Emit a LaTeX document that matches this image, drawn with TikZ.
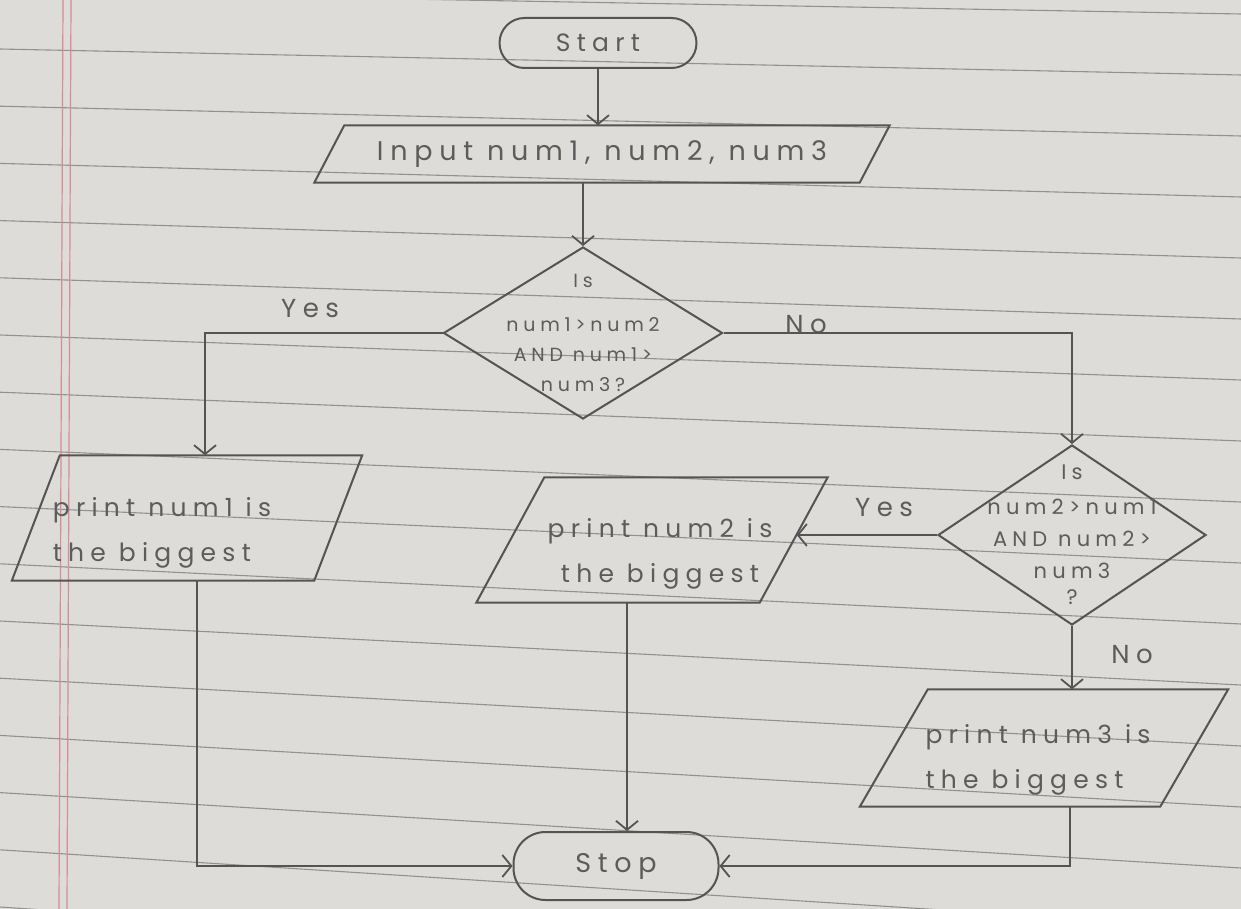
\documentclass[tikz,border=0pt]{standalone}
\usepackage{fontspec}
\newfontfamily\hand{Poppins}[LetterSpace=25]
\usetikzlibrary{shapes.geometric,arrows.meta}
\definecolor{paper}{RGB}{221,220,216}
\definecolor{ruling}{RGB}{145,145,142}
\definecolor{marginred}{RGB}{214,140,150}
\definecolor{pencil}{RGB}{84,84,84}
\definecolor{ink}{RGB}{92,92,92}
% draw a right-leaning parallelogram inside the bounding box of node #1, slant #2
\newcommand\paradraw[2]{\draw[line] ([xshift=#2]#1.north west) -- (#1.north east)
  -- ([xshift=-#2]#1.south east) -- (#1.south west) -- cycle;}
\begin{document}
\begin{tikzpicture}[x=1pt,y=-1pt,
  line/.style={draw=pencil, line width=2pt},
  arr/.style={line, -{Straight Barb[length=9pt,width=22pt,line width=1.8pt]}},
  term/.style={line, text=ink},
  io/.style={rectangle, inner sep=0pt, text=ink},
  ptext/.style={text=ink, align=left, inner sep=0pt, font={\hand\fontsize{25}{45}\selectfont}},
  dec/.style={line, diamond, shape aspect=1.5, inner sep=-40pt, align=center, text=ink},
  lbl/.style={text=ink, font={\hand\fontsize{26}{30}\selectfont}}]
\useasboundingbox (0,0) rectangle (1241,909);
% paper
\fill[paper] (0,0) rectangle (1241,909);
\foreach \k in {-1,...,15}
  \draw[ruling, line width=1.1pt] (0,{49+57.2*\k}) -- (1241,{75+61*\k});
\draw[marginred, line width=1.2pt] (63,0) -- (59,909);
\draw[marginred, line width=1.2pt] (71,0) -- (67,909);
% nodes
\node[term, minimum width=197pt, minimum height=50pt, rounded corners=25pt,
  font={\hand\fontsize{25}{30}\selectfont}] (start) at (598,43) {Start};
\node[io, minimum width=575pt, minimum height=57pt,
  font={\hand\fontsize{27}{32}\selectfont}] (in) at (602,154) {Input num1, num2, num3};
\paradraw{in}{30pt}
\node[dec, minimum width=279pt, minimum height=172pt, font={\hand\fontsize{19}{30}\selectfont}] (d1) at (583,333)
  {Is\\[14pt]num1>num2\\AND num1>\\num3?};
\node[io, minimum width=350pt, minimum height=125pt,
  label={[ptext, xshift=-25pt, yshift=-15pt]center:{print num1 is\\the biggest}}]
  (p1) at (187,518) {};
\paradraw{p1}{48pt}
\node[dec, minimum width=268pt, minimum height=180pt, font={\hand\fontsize{21}{32}\selectfont}] (d2) at (1072,535)
  {Is\\[3pt]num2>num1\\AND num2>\\num3\\[-6pt]?};
\node[io, minimum width=351pt, minimum height=125pt,
  label={[ptext, align=center, xshift=8pt, yshift=-14pt]center:{print num2 is\\the biggest}}]
  (p2) at (652,540) {};
\paradraw{p2}{68pt}
\node[io, minimum width=368pt, minimum height=117pt,
  label={[ptext, xshift=-6pt, yshift=-12pt]center:{print num3 is\\the biggest}}]
  (p3) at (1044,748) {};
\paradraw{p3}{68pt}
\node[term, minimum width=205pt, minimum height=68pt, rounded corners=32pt,
  font={\hand\fontsize{27}{32}\selectfont}] (stop) at (616,866) {Stop};
% labels
\node[lbl] (yes1) at (310,309) {Yes};
\node[lbl] (no1) at (806,325) {No};
\node[lbl] (yes2) at (884,508) {Yes};
\node[lbl] (no2) at (1132,655) {No};
% connectors
\draw[arr] (start.south) -- (start.south |- in.north);
\draw[arr] (d1.north |- in.south) -- (d1.north);
\draw[arr] (d1.west) -| ([xshift=18pt]p1.north);
\draw[arr] (d1.east) -| (d2.north);
\draw[arr] (d2.west) -- ([xshift=-31pt]p2.east |- d2.west);
\draw[arr] (d2.south) -- (d2.south |- p3.north);
\draw[arr] ([xshift=10pt]p1.south) |- (stop.west);
\draw[arr] ([xshift=-25pt]p2.south) -- ([xshift=-25pt]p2.south |- stop.north);
\draw[arr] ([xshift=26pt]p3.south) |- (stop.east);
\end{tikzpicture}
\end{document}
